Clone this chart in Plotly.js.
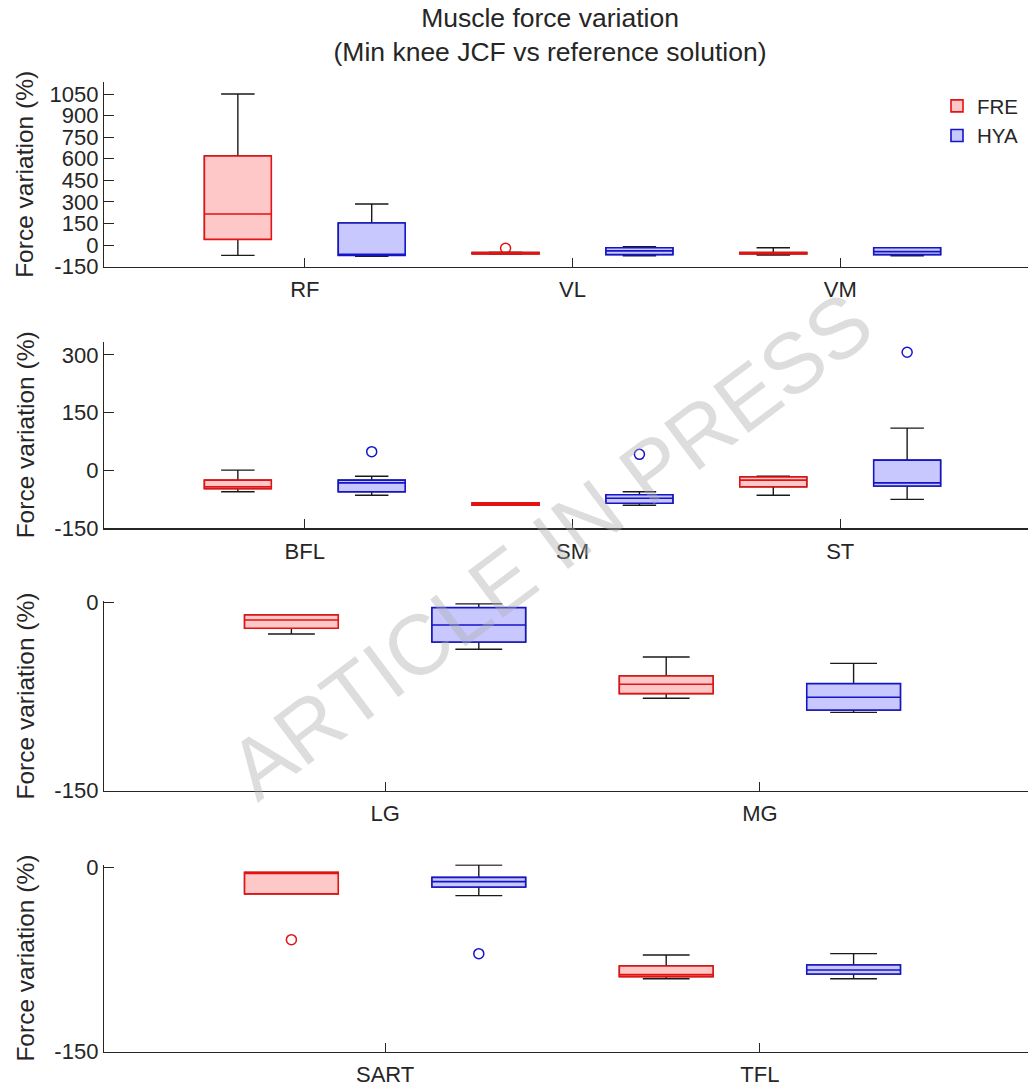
<!DOCTYPE html>
<html>
<head>
<meta charset="utf-8">
<script src="https://cdn.plot.ly/plotly-3.0.1.min.js"></script>
<style>html,body{margin:0;padding:0;background:#fff;}#chart{width:1029px;height:1088px;}</style>
</head>
<body>
<div id="chart"></div>
<script>
// ---------- data (force variation, %) ----------
const muscles   = ['RF','VL','VM','BFL','SM','ST','LG','MG','SART','TFL'];
const panelOf   = [1,1,1,2,2,2,3,3,4,4];

const freLower  = [-71, -62, -69, -55, -90, -64, -25.0, -76.3, -21.4, -90.5];
const freQ1     = [ 40, -61, -61, -47, -90, -42, -20.4, -72.6, -21.4, -88.8];
const freMedian = [216, -56, -56, -42, -87, -25, -13.8, -65.1,  -4.0, -87.2];
const freQ3     = [619, -51, -51, -25, -84, -17,  -9.8, -58.5,  -3.8, -80.1];
const freUpper  = [1050,-50, -18,   1, -84, -15,  -9.8, -43.3,  -3.8, -71.2];

const hyaLower  = [-78, -74, -74, -64, -90, -75, -37.2, -87.5, -22.8, -90.5];
const hyaQ1     = [-71, -66, -66, -55, -85, -40, -31.4, -85.6, -15.7, -86.7];
const hyaMedian = [-64, -40, -45, -32, -72, -32, -17.8, -75.5, -11.4, -83.4];
const hyaQ3     = [154, -18, -18, -25, -63,  27,  -4.0, -64.6,  -7.9, -79.3];
const hyaUpper  = [286, -11, -18, -15, -55, 110,  -1.0, -48.4,   2.2, -70.1];

const freOutlierMuscle = ['VL', 'SART'];
const freOutlierValue  = [-22, -58.7];
const hyaOutlierMuscle = ['BFL', 'SM', 'ST', 'SART'];
const hyaOutlierValue  = [49, 42, 307, -70.1];

const yTicks1 = [-150, 0, 150, 300, 450, 600, 750, 900, 1050];
const yTicks2 = [-150, 0, 150, 300];
const yTicks3 = [-150, 0];
const yTicks4 = [-150, 0];
const yRanges = [[-150, 1133], [-150, 335], [-150, 1], [-150, 2.5]];

const seriesNames = ['FRE', 'HYA'];
const yTitle = 'Force variation (%)';
const titleText = 'Muscle force variation<br>(Min knee JCF vs reference solution)';

// ---------- styling / layout constants ----------
const FONT = 'Liberation Sans, Arial, Helvetica, sans-serif';
const TXT = '#262626';
const W = 1029, H = 1088;
const padL = 104, padR = 1;
// panel pixel extents (top, bottom)
const panelPx = [[82.1, 266.7], [341.5, 528.3], [601.4, 790.7], [864.6, 1051.7]];
const colors = {
  FRE: {line: '#e41212', fill: '#ffc8c8'},
  HYA: {line: '#1515c8', fill: '#c8c8ff'}
};
const OFFSET = 0.25, BOXW = 0.25;

const traces = [];
const series = [
  {name: 'FRE', lo: freLower, q1: freQ1, me: freMedian, q3: freQ3, hi: freUpper,
   outM: freOutlierMuscle, outV: freOutlierValue, sign: -1},
  {name: 'HYA', lo: hyaLower, q1: hyaQ1, me: hyaMedian, q3: hyaQ3, hi: hyaUpper,
   outM: hyaOutlierMuscle, outV: hyaOutlierValue, sign: 1}
];

const panelCats = [1,2,3,4].map(p => muscles.filter((m, i) => panelOf[i] === p));

for (let p = 1; p <= 4; p++) {
  const idx = muscles.map((m, i) => i).filter(i => panelOf[i] === p);
  const cats = panelCats[p - 1];
  const ax = p === 1 ? '' : String(p);
  series.forEach(s => {
    const xs = idx.map(i => cats.indexOf(muscles[i]) + 1 + s.sign * OFFSET);
    const q1 = idx.map(i => s.q1[i]);
    const me = idx.map(i => s.me[i]);
    const q3 = idx.map(i => s.q3[i]);
    // whiskers (black)
    traces.push({
      type: 'box', x: xs, q1: q1, median: me, q3: q3,
      lowerfence: idx.map(i => s.lo[i]), upperfence: idx.map(i => s.hi[i]),
      boxpoints: false, width: BOXW, whiskerwidth: 0.5,
      line: {color: '#1a1a1a', width: 1.4}, fillcolor: 'rgba(0,0,0,0)',
      xaxis: 'x' + ax, yaxis: 'y' + ax, showlegend: false, hoverinfo: 'skip'
    });
    // coloured box
    traces.push({
      type: 'box', name: s.name, x: xs, q1: q1, median: me, q3: q3,
      lowerfence: q1, upperfence: q3,
      boxpoints: false, width: BOXW, whiskerwidth: 0,
      line: {color: colors[s.name].line, width: 1.6}, fillcolor: colors[s.name].fill,
      xaxis: 'x' + ax, yaxis: 'y' + ax, showlegend: p === 1, legendgroup: s.name
    });
    // outliers
    const ox = [], oy = [];
    s.outM.forEach((m, k) => {
      const j = muscles.indexOf(m);
      if (panelOf[j] === p) { ox.push(cats.indexOf(m) + 1 + s.sign * OFFSET); oy.push(s.outV[k]); }
    });
    if (ox.length) traces.push({
      type: 'scatter', mode: 'markers', x: ox, y: oy,
      marker: {symbol: 'circle-open', size: 10, color: colors[s.name].line, line: {width: 1.5, color: colors[s.name].line}},
      xaxis: 'x' + ax, yaxis: 'y' + ax, showlegend: false, hoverinfo: 'skip'
    });
  });
}

const layout = {
  width: W, height: H,
  margin: {l: padL, r: padR, t: 0, b: 0, pad: 0},
  paper_bgcolor: '#fff', plot_bgcolor: '#fff',
  font: {family: FONT, color: TXT, size: 22},
  title: {text: titleText, font: {family: FONT, size: 26.5, color: TXT},
          x: 550 / W, xref: 'container', xanchor: 'center',
          y: 1 - 27 / H, yref: 'container', yanchor: 'top'},
  boxmode: 'overlay',
  showlegend: true,
  legend: {x: (937 - padL) / (W - padL - padR), y: 1 - 86 / H, xanchor: 'left', yanchor: 'top',
           bgcolor: 'rgba(0,0,0,0)', borderwidth: 0, font: {family: FONT, size: 20.5, color: TXT},
           tracegroupgap: 0},
  annotations: [{
    text: 'ARTICLE IN PRESS', xref: 'paper', yref: 'paper',
    x: (550 - padL) / (W - padL - padR), y: 1 - 545 / H, xanchor: 'center', yanchor: 'middle',
    showarrow: false, textangle: -37,
    font: {family: FONT, size: 85, color: 'rgba(175,175,175,0.42)'}
  }]
};

const yTickSets = [yTicks1, yTicks2, yTicks3, yTicks4];
const standoffs = [8, 12, 12, 12];
for (let p = 1; p <= 4; p++) {
  const ax = p === 1 ? '' : String(p);
  const n = panelCats[p - 1].length;
  const [top, bot] = panelPx[p - 1];
  layout['xaxis' + ax] = {
    anchor: 'y' + ax, domain: [0, 1],
    range: [0.25, 0.25 + (n + 0.5) * ((W - padL - padR) / 937)],
    tickvals: panelCats[p - 1].map((c, i) => i + 1), ticktext: panelCats[p - 1],
    ticks: 'inside', ticklen: 9, tickcolor: TXT, tickwidth: 1,
    showline: true, linecolor: TXT, linewidth: 1.2,
    showgrid: false, zeroline: false, fixedrange: true,
    tickfont: {family: FONT, size: 22, color: TXT}, ticklabelstandoff: 3
  };
  layout['yaxis' + ax] = {
    anchor: 'x' + ax, domain: [1 - bot / H, 1 - top / H],
    range: yRanges[p - 1],
    tickvals: yTickSets[p - 1], ticktext: yTickSets[p - 1].map(v => String(v)),
    ticks: 'inside', ticklen: 10, tickcolor: TXT, tickwidth: 1,
    showline: true, linecolor: TXT, linewidth: 1.2,
    showgrid: false, zeroline: false, fixedrange: true,
    tickfont: {family: FONT, size: 22, color: TXT},
    title: {text: yTitle, font: {family: FONT, size: 24.5, color: TXT}, standoff: standoffs[p - 1]}
  };
}

Plotly.newPlot('chart', traces, layout, {staticPlot: true, displayModeBar: false});
</script>
</body>
</html>
